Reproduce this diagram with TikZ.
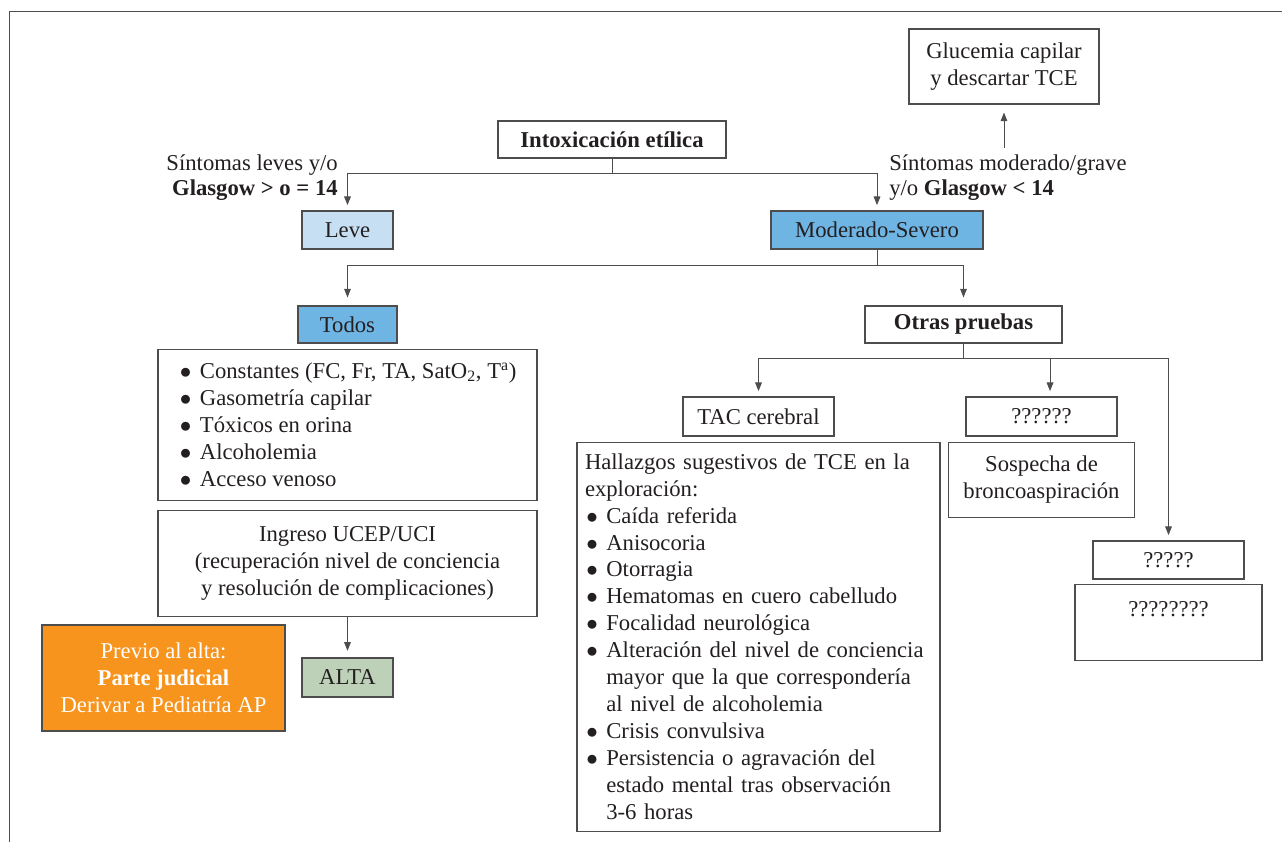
\documentclass[tikz,border=0pt]{standalone}
\usepackage{fontspec}
\setmainfont{Liberation Serif}
\usetikzlibrary{positioning,arrows.meta}

\definecolor{ink}{RGB}{35,31,32}
\definecolor{leveblue}{RGB}{198,223,242}
\definecolor{modblue}{RGB}{110,181,228}
\definecolor{altagreen}{RGB}{188,209,184}
\definecolor{previoorange}{RGB}{247,148,29}

\newcommand{\itm}[1]{\makebox[16pt][l]{\hspace{1pt}$\bullet$}#1}
\newcommand{\cont}{\hspace*{16pt}}

\begin{document}
\begin{tikzpicture}[x=0.75pt,y=-0.75pt,node distance=3.75pt,
        font=\fontsize{17}{20.2}\selectfont,
        >={Triangle[length=6.5pt,width=5pt]},
        box/.style={draw=ink!80,line width=0.8pt,inner sep=0pt,text=ink,align=center},
        lbl/.style={text=ink,inner sep=0pt,font=\fontsize{17}{19}\selectfont},
        link/.style={draw=ink!80,line width=0.75pt},
        arr/.style={link,->,shorten >=4pt}]
    \useasboundingbox (0,0) rectangle (1282,842);
    \draw[link] (1282,12) -- (9,12) -- (9,842);

    \node[box,minimum width=171pt,minimum height=27.75pt] (intox) at (612,139.5) {\textbf{Intoxicación etílica}};
    \node[box,minimum width=142.5pt,minimum height=56.25pt] (gluc) at (1004,66.5) {Glucemia capilar\\y descartar TCE};
    \node[box,fill=leveblue,minimum width=68.25pt,minimum height=28.5pt] (leve) at (347.5,230) {Leve};
    \node[box,fill=modblue,minimum width=159pt,minimum height=28.5pt] (mod_sev) at (877,230) {Moderado-Severo};
    \node[lbl,anchor=east,align=right] (lbl_leve) at (338,177.5) {Síntomas leves y/o\\\textbf{Glasgow > o = 14}};
    \node[lbl,anchor=west,align=left] (lbl_mod) at (889,177.5) {Síntomas moderado/grave\\y/o \textbf{Glasgow < 14}};

    \node[box,fill=modblue,minimum width=74.25pt,minimum height=27.75pt] (todos) at (347.5,324.5) {Todos};
    \node[box,align=left,minimum width=284.25pt,minimum height=113.25pt,below=of todos] (const) {%
        \itm{Constantes (FC, Fr, TA, SatO\textsubscript{2}, T\textsuperscript{a})}\\
        \itm{Gasometría capilar}\\
        \itm{Tóxicos en orina}\\
        \itm{Alcoholemia}\\
        \itm{Acceso venoso}};
    \node[box,minimum width=284.25pt,minimum height=79.5pt,below=6.75pt of const] (ingreso) {Ingreso UCEP/UCI\\(recuperación nivel de conciencia\\y resolución de complicaciones)};
    \node[box,fill=altagreen,minimum width=68.25pt,minimum height=29.25pt] (alta) at (347.5,677.5) {ALTA};
    \node[box,fill=previoorange,text=white,minimum width=182.25pt,minimum height=79.5pt] (previo) at (163.5,678) {Previo al alta:\\\textbf{Parte judicial}\\Derivar a Pediatría AP};

    \node[box,minimum width=147.75pt,minimum height=27.75pt] (otras) at (963.5,324.5) {\textbf{Otras pruebas}};
    \node[box,minimum width=113.25pt,minimum height=29.25pt] (tac) at (758.5,416.5) {TAC cerebral};
    \node[box,align=left,text width=260.25pt,inner xsep=6pt,minimum height=291.75pt,below=of tac] (hallaz) {%
        Hallazgos sugestivos de TCE en la\\
        exploración:\\
        \itm{Caída referida}\\
        \itm{Anisocoria}\\
        \itm{Otorragia}\\
        \itm{Hematomas en cuero cabelludo}\\
        \itm{Focalidad neurológica}\\
        \itm{Alteración del nivel de conciencia}\\
        \cont mayor que la que correspondería\\
        \cont al nivel de alcoholemia\\
        \itm{Crisis convulsiva}\\
        \itm{Persistencia o agravación del}\\
        \cont estado mental tras observación\\
        \cont 3-6 horas};
    \node[box,minimum width=113.25pt,minimum height=29.25pt] (q_6) at (1041.5,416.5) {??????};
    \node[box,minimum width=139.5pt,minimum height=56.25pt,below=of q_6] (sosp) {Sospecha de\\broncoaspiración};
    \node[box,minimum width=113.25pt,minimum height=28.5pt] (q_5) at (1168.5,560) {?????};
    \node[box,minimum width=140.25pt,minimum height=57pt,below=3pt of q_5] (q_8) {????????\\\mbox{}};

    % branching points
    \coordinate (j_1) at (612,173);
    \coordinate (j_2) at (877,265);
    \coordinate (j_3) at (963.5,358);
    \coordinate (g_0) at (1004,148);

    \draw[link] (intox) -- (j_1);
    \draw[arr] (j_1) -| (leve);
    \draw[arr] (j_1) -| (mod_sev);
    \draw[arr,shorten >=6pt] (g_0) -- (gluc);
    \draw[link] (mod_sev) -- (j_2);
    \draw[arr,shorten >=6pt] (j_2) -| (todos);
    \draw[arr,shorten >=6pt] (j_2) -| (otras);
    \draw[arr,shorten >=5pt] (ingreso) -- (alta);
    \draw[link] (otras) -- (j_3);
    \draw[arr] (j_3) -| (tac);
    \draw[arr] (j_3) -| ([xshift=6.4pt]q_6.north);
    \draw[arr] (j_3) -| (q_5);
\end{tikzpicture}
\end{document}
